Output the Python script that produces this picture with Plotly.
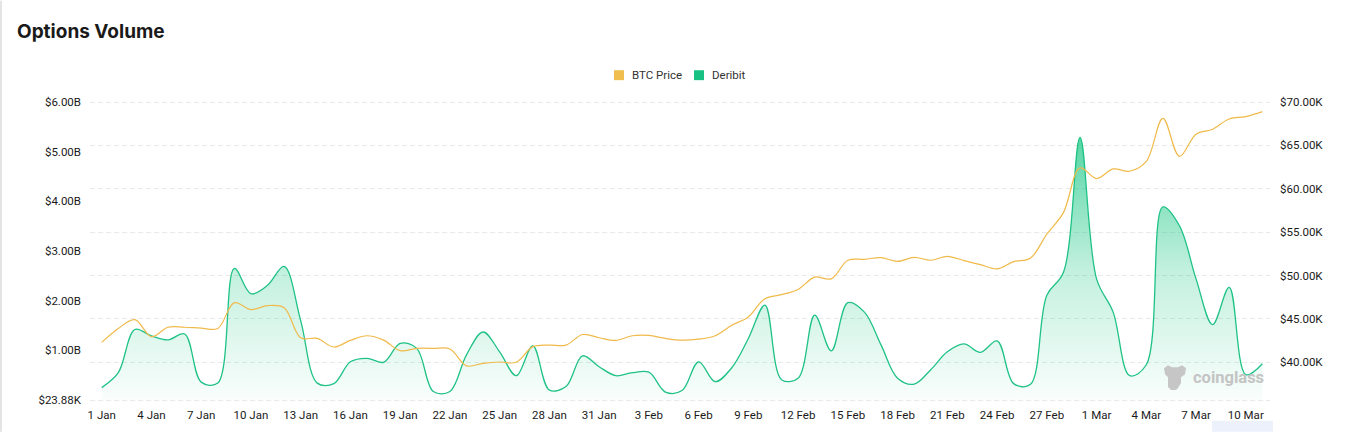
import pandas as pd
import plotly.graph_objects as go

# ---------------- data ----------------
dates = pd.date_range("2024-01-01", periods=71, freq="D")

deribit_volume_b = [
    0.25, 0.55, 1.42, 1.29, 1.21, 1.33, 0.36, 0.34, 2.65, 2.14,
    2.31, 2.69, 1.60, 0.34, 0.33, 0.77, 0.84, 0.76, 1.14, 1.04,
    0.17, 0.17, 0.91, 1.37, 0.97, 0.49, 1.09, 0.20, 0.27, 0.89,
    0.67, 0.49, 0.55, 0.56, 0.16, 0.19, 0.77, 0.37, 0.65, 1.24,
    1.91, 0.41, 0.44, 1.71, 0.99, 1.96, 1.77, 1.11, 0.44, 0.32,
    0.61, 0.97, 1.13, 0.96, 1.19, 0.33, 0.31, 2.11, 2.57, 5.29,
    2.44, 1.77, 0.49, 0.71, 3.89, 3.51, 2.44, 1.52, 2.27, 0.51,
    0.73,
]
btc_price_k = [
    42.29, 43.90, 44.92, 42.94, 44.04, 44.04, 43.93, 43.90, 46.87, 46.07,
    46.53, 46.30, 42.83, 42.75, 41.76, 42.52, 43.06, 42.55, 41.34, 41.60,
    41.60, 41.53, 39.58, 39.88, 40.03, 40.00, 41.80, 41.98, 41.98, 43.20,
    42.83, 42.52, 43.06, 43.10, 42.75, 42.55, 42.67, 43.06, 44.27, 45.23,
    47.33, 47.79, 48.40, 49.81, 49.62, 51.76, 51.87, 52.06, 51.64, 52.10,
    51.76, 52.22, 51.72, 51.26, 50.76, 51.60, 51.99, 54.77, 57.25, 62.41,
    61.18, 62.29, 62.02, 63.16, 68.13, 63.74, 66.30, 66.87, 68.05, 68.32,
    68.89,
]

left_tick_vals = [23880, 1e9, 2e9, 3e9, 4e9, 5e9, 6e9]
left_tick_text = ["$23.88K", "$1.00B", "$2.00B", "$3.00B", "$4.00B", "$5.00B", "$6.00B"]
right_tick_vals = [40000, 45000, 50000, 55000, 60000, 65000, 70000]
right_tick_text = ["$40.00K", "$45.00K", "$50.00K", "$55.00K", "$60.00K", "$65.00K", "$70.00K"]
x_tick_step_days = 3

volume = [v * 1e9 for v in deribit_volume_b]
price = [p * 1000 for p in btc_price_k]

# ---------------- styling ----------------
GREEN = "#1fc286"
ORANGE = "#f0ba4a"
GRID = "#e9e9e9"
TICK_FONT = dict(family="Roboto, Noto Sans, sans-serif", size=11.5, color="#1a1a1a")

W, H = 1355, 434
L, R, T, B = 90, 85, 102, 32
PW, PH = W - L - R, H - T - B


def px_x(px):
    return (px - L) / PW


def px_y(py):
    return (H - B - py) / PH


fig = go.Figure()

fig.add_trace(go.Scatter(
    x=dates, y=volume, name="Deribit", yaxis="y",
    mode="lines", line=dict(color=GREEN, width=1.3, shape="spline", smoothing=1.0),
    fill="tozeroy",
    fillgradient=dict(
        type="vertical", start=0, stop=max(volume),
        colorscale=[[0, "rgba(30,200,135,0.02)"], [0.5, "rgba(30,200,135,0.27)"],
                    [1, "rgba(30,200,135,0.75)"]],
    ),
    showlegend=False, hoverinfo="skip",
))
fig.add_trace(go.Scatter(
    x=dates, y=price, name="BTC Price", yaxis="y2",
    mode="lines", line=dict(color=ORANGE, width=1.2, shape="spline", smoothing=1.0),
    showlegend=False, hoverinfo="skip",
))

day = pd.Timedelta(days=1)
x_range = [dates[0] - 0.706 * day, dates[-1] + 0.46 * day]
tickvals = list(dates[::x_tick_step_days])

fig.update_layout(
    width=W, height=H,
    margin=dict(l=L, r=R, t=T, b=B, pad=0),
    paper_bgcolor="white", plot_bgcolor="white",
    showlegend=False,
    title=dict(text="<b>Options Volume</b>", x=17 / W, xanchor="left", xref="container",
               y=1 - 31 / H, yanchor="middle", yref="container",
               font=dict(family="Inter, Roboto, sans-serif", size=19, color="#1a1a1a")),
    xaxis=dict(
        range=x_range, type="date", tickvals=tickvals, tickformat="%-d %b",
        showgrid=False, zeroline=False, showline=False, ticks="",
        tickfont=TICK_FONT, ticklabelstandoff=6,
    ),
    yaxis=dict(
        range=[0, 6.0e9 * 1.0005], tickvals=left_tick_vals, ticktext=left_tick_text,
        showgrid=False, zeroline=False, showline=False, ticks="",
        tickfont=TICK_FONT, ticklabelstandoff=8,
    ),
    yaxis2=dict(
        range=[35650, 70000 * 1.0001], overlaying="y", side="right",
        tickvals=right_tick_vals, ticktext=right_tick_text,
        showgrid=True, gridcolor=GRID, gridwidth=1, griddash="5px,3px",
        zeroline=False, showline=False, ticks="",
        tickfont=TICK_FONT, ticklabelstandoff=9,
    ),
)

shapes = []
# top and bottom dashed gridlines (edges of the plot area)
for yy in (102.5, 402.5):
    shapes.append(dict(type="line", xref="paper", yref="paper", x0=0, x1=1, y0=px_y(yy), y1=px_y(yy),
                       line=dict(color=GRID, width=1, dash="5px,3px"), layer="below"))
# left light border of the card
shapes.append(dict(type="line", xref="paper", yref="paper", x0=px_x(1), x1=px_x(1), y0=px_y(0), y1=px_y(H),
                   line=dict(color="#e4e4e4", width=2)))
# legend squares
shapes.append(dict(type="rect", xref="paper", yref="paper", x0=px_x(614), x1=px_x(624),
                   y0=px_y(80), y1=px_y(70), fillcolor="#f0bd4f", line=dict(width=0)))
shapes.append(dict(type="rect", xref="paper", yref="paper", x0=px_x(694), x1=px_x(704),
                   y0=px_y(80), y1=px_y(70), fillcolor="#19c283", line=dict(width=0)))
# small light-blue box bottom right
shapes.append(dict(type="rect", xref="paper", yref="paper", x0=px_x(1212), x1=px_x(1273),
                   y0=px_y(434), y1=px_y(423), fillcolor="#edf1fc", line=dict(width=0)))
# watermark icon (rough bull head)
icon_pts = [(1164, 370), (1168, 367), (1172, 369), (1178, 369), (1182, 367), (1186, 370),
            (1185, 376), (1181, 379), (1181, 385), (1178, 390), (1176, 392), (1171, 392),
            (1168, 389), (1168, 385), (1168, 379), (1165, 376)]
path = "M " + " L ".join(f"{px_x(a):.5f},{px_y(b):.5f}" for a, b in icon_pts) + " Z"
shapes.append(dict(type="path", xref="paper", yref="paper", path=path,
                   fillcolor="#c6c6c6", line=dict(width=0)))
fig.update_layout(shapes=shapes)

annotations = [
    dict(text="BTC Price", x=px_x(630), y=px_y(75), xref="paper", yref="paper",
         xanchor="left", yanchor="middle", showarrow=False,
         font=dict(family="Roboto, sans-serif", size=11.5, color="#333333")),
    dict(text="Deribit", x=px_x(710), y=px_y(75), xref="paper", yref="paper",
         xanchor="left", yanchor="middle", showarrow=False,
         font=dict(family="Roboto, sans-serif", size=11.5, color="#333333")),
    dict(text="<b>coinglass</b>", x=px_x(1191), y=px_y(379), xref="paper", yref="paper",
         xanchor="left", yanchor="middle", showarrow=False,
         font=dict(family="Roboto, sans-serif", size=16.5, color="#c4c4c4")),
]
fig.update_layout(annotations=annotations)

fig.write_html("out.html")
